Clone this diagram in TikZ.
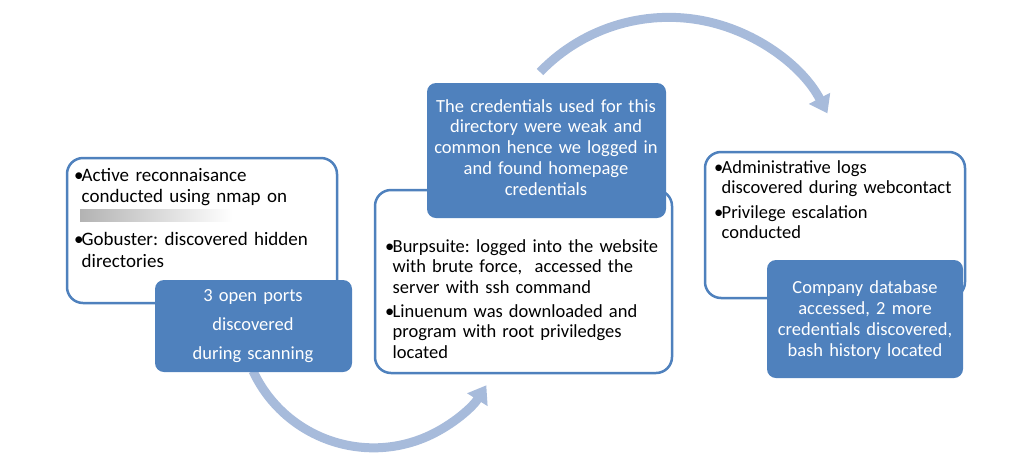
\documentclass[tikz,border=0pt]{standalone}
\usepackage{fontspec}
\setmainfont{Carlito}
\usetikzlibrary{arrows.meta}
\definecolor{accent}{RGB}{79,129,189}
\definecolor{arrowc}{RGB}{167,187,219}
\newcommand\bitem[1]{\hangindent=7.5pt\hangafter=1\noindent\makebox[7.5pt][l]{•}#1\par}
\begin{document}
\begin{tikzpicture}[x=1pt,y=1pt,
  panel/.style={draw=accent, line width=2.5pt, fill=white, rounded corners=16pt, inner sep=0pt},
  tag/.style={fill=accent, rounded corners=9pt, inner sep=0pt},
  bodytext/.style={anchor=base west, inner sep=0pt, text width=#1, align=left},
  tagtext/.style={anchor=base, inner sep=0pt, text width=#1, align=center, text=white},
  flow/.style={draw=arrowc, line width=9pt, -{Triangle[width=23pt,length=17pt]}, arrowc}
]
\useasboundingbox (0,0) rectangle (1025,-464);
% arrows
\coordinate (a1s) at (253,-371);
\coordinate (a2s) at (540,-72);
\draw[flow] (a1s) arc[start angle=205, end angle=328, radius=133];
\draw[flow] (a2s) arc[start angle=136, end angle=27.6, radius=179];
% stage 1
\node[panel, minimum width=270pt, minimum height=145pt] (p1) at (202,-230.5) {};
\node[tag, minimum width=197pt, minimum height=92pt] (t1) at (253.5,-326) {};
\node[bodytext=265pt, font={\fontsize{19}{21.5}\selectfont\frenchspacing\setlength\parskip{0pt}}] (b1) at (74,-181)
  {\bitem{Active reconnaisance\newline conducted using nmap on\newline\mbox{}}\bitem{Gobuster: discovered hidden\newline directories}};
\shade[left color=black!30, right color=white] (80,-209) rectangle (232,-221);
\node[tagtext=190pt, font={\fontsize{18.5}{29}\selectfont}] (l1) at (253,-301)
  {3 open ports\\discovered\\during scanning};
% stage 2
\node[panel, minimum width=297pt, minimum height=183pt] (p2) at (523.5,-281.5) {};
\node[tag, minimum width=239pt, minimum height=135pt] (t2) at (546.5,-150.5) {};
\node[bodytext=290pt, font={\fontsize{18.5}{20.5}\selectfont\frenchspacing\setlength\parskip{3.5pt}}] (b2) at (385,-252)
  {\bitem{Burpsuite: logged into the website\newline with brute force,\ \ accessed the\newline server with ssh command}\bitem{Linuenum was downloaded and\newline program with root priviledges\newline located}};
\node[tagtext=235pt, font={\fontsize{18.5}{20.75}\selectfont}] (l2) at (546,-112)
  {The credentials used for this\\directory were weak and\\common hence we logged in\\and found homepage\\credentials};
% stage 3
\node[panel, minimum width=260pt, minimum height=146pt] (p3) at (835,-225) {};
\node[tag, minimum width=196pt, minimum height=118pt] (t3) at (865,-319) {};
\node[bodytext=255pt, font={\fontsize{18.5}{20}\selectfont\frenchspacing\setlength\parskip{5pt}}] (b3) at (714,-173)
  {\bitem{Administrative logs\newline discovered during webcontact}\bitem{Privilege escalation\newline conducted}};
\node[tagtext=196pt, font={\fontsize{18.5}{21}\selectfont}] (l3) at (865,-293)
  {Company database\\accessed, 2 more\\credentials discovered,\\bash history located};
\end{tikzpicture}
\end{document}
